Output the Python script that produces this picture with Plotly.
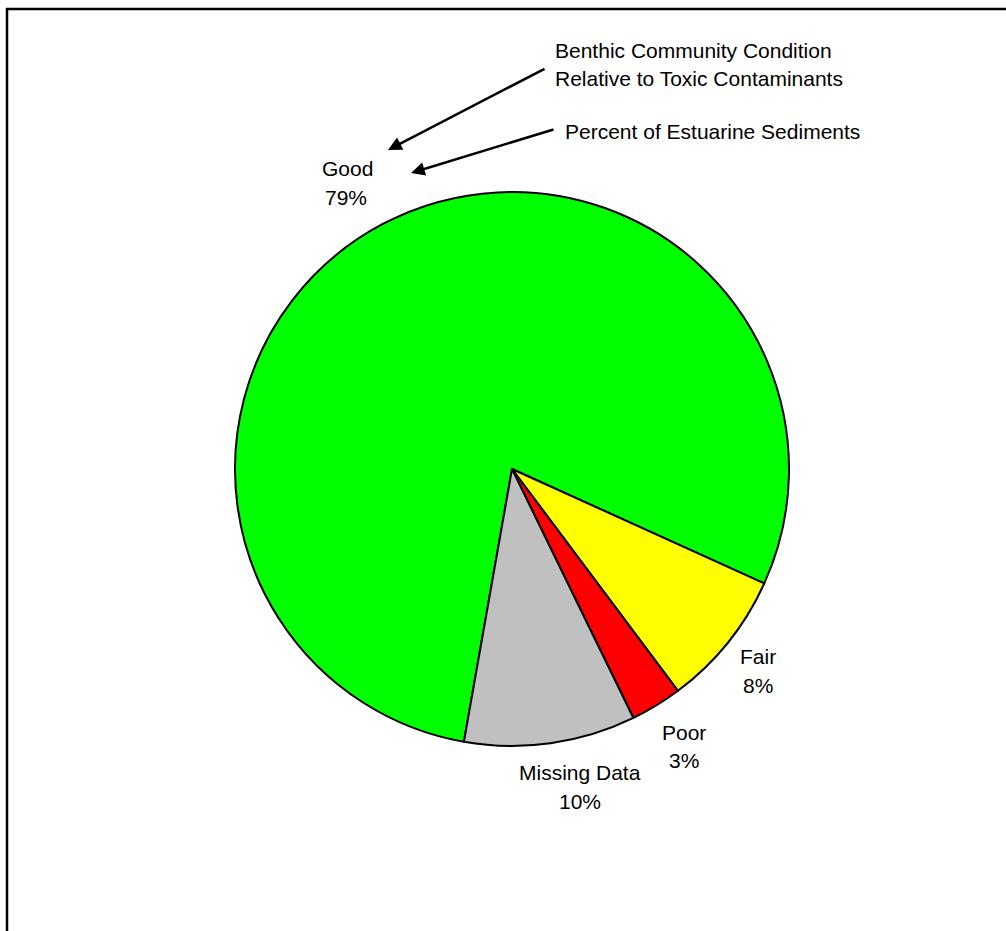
import plotly.graph_objects as go

# Benthic community condition relative to toxic contaminants
categories = ["Good", "Fair", "Poor", "Missing Data"]
percents = [79, 8, 3, 10]
slice_colors = ["#00FF00", "#FFFF00", "#FF0000", "#C0C0C0"]

title_lines = ["Benthic Community Condition", "Relative to Toxic Contaminants"]
subtitle = "Percent of Estuarine Sediments"

W, H = 1006, 931
FONT = dict(family="Liberation Sans, Arial, sans-serif", size=21, color="black")


def px(x):
    return x / W


def py(y):
    return 1 - y / H


# pie circle: centre (512, 469), radius 277 px
cx, cy, r = 512, 469, 277

fig = go.Figure(
    go.Pie(
        labels=categories,
        values=percents,
        marker=dict(colors=slice_colors, line=dict(color="black", width=2)),
        sort=False,
        direction="clockwise",
        rotation=190,
        textinfo="none",
        hoverinfo="label+percent",
        showlegend=False,
        domain=dict(x=[px(cx - r), px(cx + r)], y=[py(cy + r), py(cy - r)]),
    )
)

# two-line category labels placed outside the slices
label_pos = {
    "Good": [(347, 168), (346, 197)],
    "Fair": [(758, 656), (758, 685)],
    "Poor": [(684, 732), (684, 760)],
    "Missing Data": [(580, 772), (580, 801)],
}
annotations = []
for name, val in zip(categories, percents):
    (x1, y1), (x2, y2) = label_pos[name]
    for text, (x, y) in ((name, (x1, y1)), (f"{val}%", (x2, y2))):
        annotations.append(dict(
            x=px(x), y=py(y), xref="paper", yref="paper", text=text,
            showarrow=False, xanchor="center", yanchor="middle", font=FONT,
        ))

# title block at upper right
for text, y in zip(title_lines, (50, 79)):
    annotations.append(dict(
        x=px(553), y=py(y), xref="paper", yref="paper", text=text,
        showarrow=False, xanchor="left", yanchor="middle", font=FONT,
    ))
annotations.append(dict(
    x=px(563), y=py(131), xref="paper", yref="paper", text=subtitle,
    showarrow=False, xanchor="left", yanchor="middle", font=FONT,
))

# arrows pointing from the titles toward the "Good" label
for (tipx, tipy), (tailx, taily) in (((388, 150), (546, 68)), ((411, 173), (555, 129))):
    annotations.append(dict(
        x=px(tipx), y=py(tipy), xref="paper", yref="paper", text="",
        showarrow=True, ax=tailx - tipx, ay=taily - tipy,
        arrowhead=2, arrowsize=1.1, arrowwidth=2.5, arrowcolor="black",
        standoff=0, startstandoff=0,
    ))

fig.update_layout(
    width=W, height=H,
    margin=dict(l=0, r=0, t=0, b=0),
    paper_bgcolor="white", plot_bgcolor="white",
    font=FONT,
    annotations=annotations,
    shapes=[dict(
        type="rect", xref="paper", yref="paper",
        x0=px(7), y0=py(9), x1=px(1020), y1=py(950),
        line=dict(color="black", width=2.5), fillcolor="rgba(0,0,0,0)",
    )],
)

fig.write_html("out.html")
